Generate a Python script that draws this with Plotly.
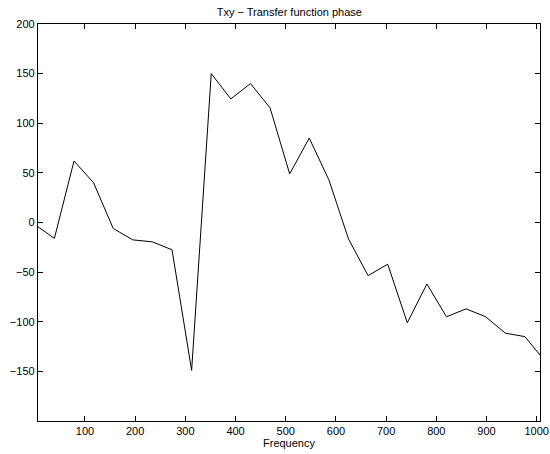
import numpy as np
import plotly.graph_objects as go

# Frequency bins (Hz) and transfer-function phase (degrees)
freq_step = 1000 / 25.6
freq = [k * freq_step for k in range(27)]
phase = [-2, -16, 62, 40, -6, -17.5, -19.5, -27.5, -149, 150, 124.5, 140,
         115.5, 49, 85, 43, -16.5, -53.5, -42, -101, -62, -95, -87, -95,
         -111.5, -115, -139]

x_ticks = [100, 200, 300, 400, 500, 600, 700, 800, 900, 1000]
y_ticks = [-150, -100, -50, 0, 50, 100, 150, 200]
y_tick_text = ["\u2212150", "\u2212100", "\u221250", "0", "50", "100", "150", "200"]

fig = go.Figure()
fig.add_trace(go.Scatter(
    x=freq, y=phase, mode="lines",
    line=dict(color="black", width=1),
    showlegend=False,
))

axis_common = dict(
    showline=True, linecolor="black", linewidth=1.3, mirror="ticks",
    ticks="inside", ticklen=5, tickwidth=1, tickcolor="black",
    showgrid=False, zeroline=False, automargin=False,
    tickfont=dict(family="Liberation Sans, Arial, sans-serif", size=11, color="black"),
)

fig.update_xaxes(
    range=[6.4, 1006.6], tickvals=x_ticks,
    title=dict(text="Frequency", standoff=2,
               font=dict(family="Liberation Sans, Arial, sans-serif", size=11, color="black")),
    **axis_common,
)
fig.update_yaxes(
    range=[-200, 200], tickvals=y_ticks, ticktext=y_tick_text,
    **axis_common,
)

fig.update_layout(
    width=550, height=454,
    margin=dict(l=38, r=10, t=24, b=33),
    paper_bgcolor="white", plot_bgcolor="white",
    title=dict(text="Txy \u2212 Transfer function phase",
               x=0.526, xanchor="center", y=0.973, yanchor="middle",
               font=dict(family="Liberation Sans, Arial, sans-serif", size=11, color="black")),
)

fig.write_html("out.html")
